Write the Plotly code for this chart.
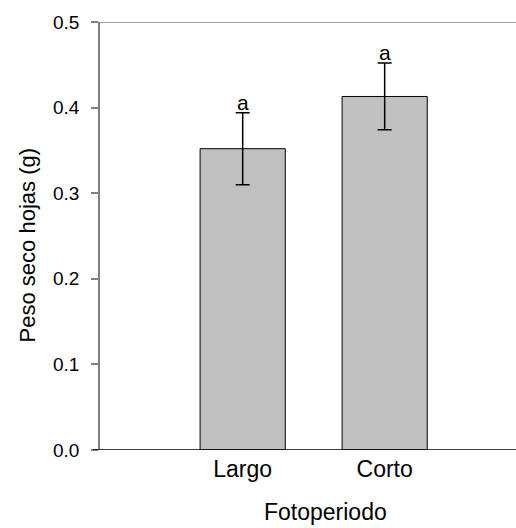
import plotly.graph_objects as go

categories = ["Largo", "Corto"]
peso_seco = [0.352, 0.413]
error_est = [0.042, 0.039]
letras = ["a", "a"]
y_ticks = [0.0, 0.1, 0.2, 0.3, 0.4, 0.5]

FONT = "Liberation Sans, Arial, sans-serif"
xpos = list(range(len(categories)))

fig = go.Figure()
fig.add_trace(go.Bar(
    x=xpos, y=peso_seco, width=0.6,
    marker=dict(color="#c0c0c0", line=dict(color="black", width=1)),
    error_y=dict(type="data", array=error_est, visible=True,
                 color="black", thickness=1.5, width=7),
    showlegend=False,
))

for xi, v, e, t in zip(xpos, peso_seco, error_est, letras):
    fig.add_annotation(x=xi, y=v + e, text=t, showarrow=False,
                       xref="x", yref="y", yanchor="bottom", yshift=-3,
                       font=dict(family=FONT, size=21, color="black"))

fig.add_annotation(x=-0.1755, y=0.239, xref="paper", yref="y",
                   xanchor="center", yanchor="middle",
                   text="Peso seco hojas (g)", textangle=-90, showarrow=False,
                   font=dict(family=FONT, size=22, color="black"))
fig.add_annotation(x=0.58, y=-0.145, xref="x", yref="paper",
                   xanchor="center", yanchor="middle",
                   text="Fotoperiodo", showarrow=False,
                   font=dict(family=FONT, size=23, color="black"))

# top frame line and bottom axis line
fig.add_shape(type="line", xref="paper", yref="y", x0=-0.0168, x1=1,
              y0=0.5, y1=0.5, line=dict(color="#808080", width=1.5), layer="above")
fig.add_shape(type="line", xref="paper", yref="y", x0=-0.0168, x1=1,
              y0=0, y1=0, line=dict(color="black", width=1.5), layer="above")

fig.update_layout(
    width=516, height=528,
    margin=dict(l=100, r=0, t=22, b=78),
    paper_bgcolor="white", plot_bgcolor="white",
    font=dict(family=FONT, color="black"),
    xaxis=dict(range=[-1.005, 1.925], tickvals=xpos, ticktext=categories,
               showgrid=False, zeroline=False, showline=False, ticks="",
               tickfont=dict(size=23, family=FONT, color="black"),
               ticklabelstandoff=3),
    yaxis=dict(range=[0, 0.5], tickvals=y_ticks, tickformat=".1f",
               showgrid=False, zeroline=False, showline=True,
               linecolor="#808080", linewidth=1.5,
               ticks="outside", ticklen=7, tickcolor="#808080", tickwidth=1.5,
               tickfont=dict(size=19, family=FONT, color="black"),
               ticklabelstandoff=8),
)

fig.write_html("out.html")
